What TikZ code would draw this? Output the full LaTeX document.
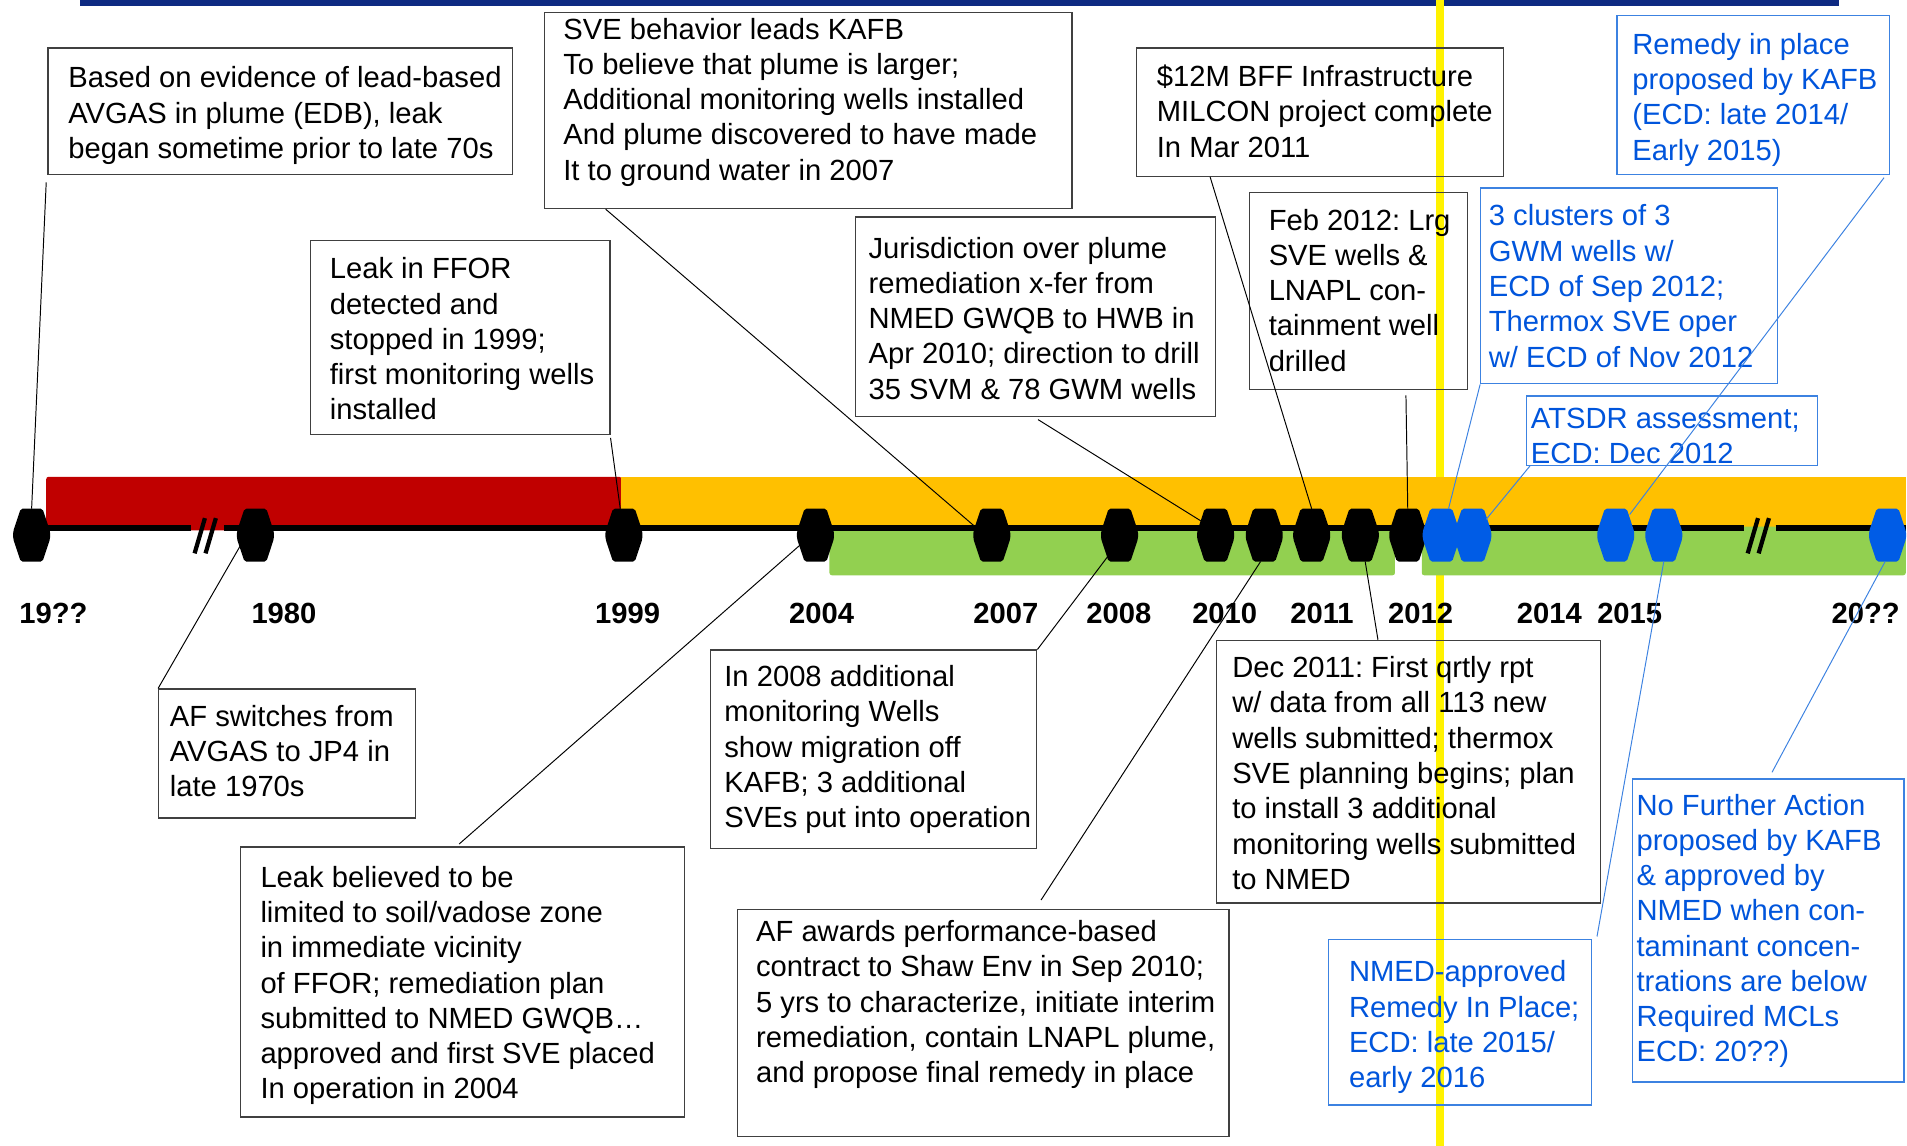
\documentclass[tikz,border=0pt]{standalone}
\usepackage{fontspec}
\setmainfont{Liberation Sans}
\usetikzlibrary{calc}
\definecolor{navy}{RGB}{14,42,130}
\definecolor{cred}{RGB}{192,0,0}
\definecolor{corange}{RGB}{255,192,0}
\definecolor{cgreen}{RGB}{146,208,80}
\definecolor{mblue}{RGB}{0,92,230}
\definecolor{tblue}{RGB}{0,85,220}
\definecolor{bblue}{RGB}{60,130,225}
\definecolor{bgray}{RGB}{64,64,64}
\newcommand{\fs}{\fontsize{24}{29}\selectfont}
\newcommand{\sr}{\rule{0pt}{23pt}}
\newcommand{\hexmk}[2]{\fill[#2, rounded corners=1.5pt] ($(#1.north)+(-9,0)$) -- ($(#1.north)+(9,0)$) -- ($(#1.east)+(0,-3)$) -- ($(#1.east)+(0,3)$) -- ($(#1.south)+(9,0)$) -- ($(#1.south)+(-9,0)$) -- ($(#1.west)+(0,3)$) -- ($(#1.west)+(0,-3)$) -- cycle;}
\frenchspacing
\begin{document}
\begin{tikzpicture}[x=1pt,y=-1pt,
  bx/.style={draw=bgray, line width=1pt, inner sep=0, anchor=north west},
  bbx/.style={draw=bblue, line width=1.1pt, inner sep=0, anchor=north west},
  tx/.style={font=\fs, align=left, inner sep=0, anchor=north west, text=black},
  btx/.style={tx, text=tblue},
  yr/.style={font=\fs\bfseries, inner sep=0},
  mk/.style={minimum width=30pt, minimum height=43pt, inner sep=0, draw=none},
  cn/.style={line width=0.8pt, black},
  bcn/.style={line width=0.8pt, bblue},
  brk/.style={line width=3.5pt, black}
]
\useasboundingbox (0,0) rectangle (1568,942);
\fill[white] (0,0) rectangle (1568,942);
% top bar and yellow line
\fill[navy] (66,0) rectangle (1512,5);
\fill[yellow] (1181,0) rectangle (1187,942);
% period bars
\fill[cred, rounded corners=2pt] (38,392) rectangle (511,436);
\fill[corange] (511,392) rectangle (1567,434);
\fill[cgreen, rounded corners=2pt] (682,433) rectangle (1147,473);
\fill[cgreen, rounded corners=2pt] (1169,433) rectangle (1567,473);
% axis line with breaks
\draw[black, line width=4.5pt] (26,434) -- (157,434);
\draw[black, line width=4.5pt] (184,434) -- (1434,434);
\draw[black, line width=4.5pt] (1460,434) -- (1567,434);
\draw[brk] (160,455) -- (168.5,426);
\draw[brk] (169,455) -- (177.5,426);
\draw[brk] (1437,455) -- (1445.5,426);
\draw[brk] (1446,455) -- (1454.5,426);
% markers
\node[mk] (m1) at (26,440) {};
\node[mk] (m2) at (210,440) {};
\node[mk] (m3) at (513,440) {};
\node[mk] (m4) at (670.5,440) {};
\node[mk] (m5) at (815.5,440) {};
\node[mk] (m6) at (920.5,440) {};
\node[mk] (m7) at (999.5,440) {};
\node[mk] (m8) at (1039.5,440) {};
\node[mk] (m9) at (1078.5,440) {};
\node[mk] (m10) at (1118.5,440) {};
\node[mk] (m11) at (1157.5,440) {};
\node[mk] (m12) at (1185,440) {};
\node[mk] (m13) at (1211,440) {};
\node[mk] (m14) at (1328.5,440) {};
\node[mk] (m15) at (1368,440) {};
\node[mk] (m16) at (1552,440) {};
\foreach \n in {m1,m2,m3,m4,m5,m6,m7,m8,m9,m10,m11}{\hexmk{\n}{black}}
\foreach \n in {m12,m13,m14,m15,m16}{\hexmk{\n}{mblue}}
% year labels
\node[yr] (y1) at (44,504) {19??};
\node[yr] (y2) at (233.5,504) {1980};
\node[yr] (y3) at (516,504) {1999};
\node[yr] (y4) at (675.5,504) {2004};
\node[yr] (y5) at (827,504) {2007};
\node[yr] (y6) at (920,504) {2008};
\node[yr] (y7) at (1007,504) {2010};
\node[yr] (y8) at (1087,504) {2011};
\node[yr] (y9) at (1168,504) {2012};
\node[yr] (y10) at (1274,504) {2014};
\node[yr] (y11) at (1340,504) {2015};
\node[yr] (y12) at (1534,504) {20??};
% boxes
\node[bx, minimum width=382, minimum height=104] (A) at (39,39) {};
\node[bx, minimum width=246, minimum height=160] (B) at (255,197) {};
\node[bx, minimum width=434, minimum height=161] (C) at (447,10) {};
\node[bx, minimum width=296, minimum height=164] (D) at (703,178) {};
\node[bx, minimum width=302, minimum height=105.5] (E) at (934,39) {};
\node[bx, minimum width=179, minimum height=162] (F) at (1027,158) {};
\node[bbx, minimum width=224, minimum height=131] (G) at (1329,12) {};
\node[bbx, minimum width=244, minimum height=161] (H) at (1217,154) {};
\node[bbx, minimum width=239.5, minimum height=57] (I) at (1254.5,325) {};
\node[bx, minimum width=211, minimum height=106] (J) at (130,566) {};
\node[bx, minimum width=364.5, minimum height=222] (K) at (197.5,696) {};
\node[bx, minimum width=268, minimum height=163] (L) at (584,534) {};
\node[bx, minimum width=315.5, minimum height=216] (M) at (1000,526) {};
\node[bx, minimum width=404, minimum height=187] (N) at (606,747) {};
\node[bbx, minimum width=216, minimum height=136] (O) at (1092,772) {};
\node[bbx, minimum width=223, minimum height=249] (P) at (1342,640) {};
% texts
\node[tx] (At) at (56,49) {\sr Based on evidence of lead-based\\AVGAS in plume (EDB), leak\\began sometime prior to late 70s};
\node[tx] (Bt) at (271,206) {\sr Leak in FFOR\\detected and\\stopped in 1999;\\first monitoring wells\\installed};
\node[tx] (Ct) at (463,9) {\sr SVE behavior leads KAFB\\To believe that plume is larger;\\Additional monitoring wells installed\\And plume discovered to have made\\It to ground water in 2007};
\node[tx] (Dt) at (714,189) {\sr Jurisdiction over plume\\remediation x-fer from\\NMED GWQB to HWB in\\Apr 2010; direction to drill\\35 SVM \& 78 GWM wells};
\node[tx] (Et) at (951,48) {\sr \$12M BFF Infrastructure\\MILCON project complete\\In Mar 2011};
\node[tx] (Ft) at (1043,166) {\sr Feb 2012: Lrg\\SVE wells \&\\LNAPL con-\\tainment well\\drilled};
\node[btx] (Gt) at (1342,21.5) {\sr Remedy in place\\proposed by KAFB\\(ECD: late 2014/\\Early 2015)};
\node[btx] (Ht) at (1224,162.6) {\sr 3 clusters of 3\\GWM wells w/\\ECD of Sep 2012;\\Thermox SVE oper\\w/ ECD of Nov 2012};
\node[btx] (It) at (1258.6,329) {\sr ATSDR assessment;\\ECD: Dec 2012};
\node[tx] (Jt) at (139.5,574) {\sr AF switches from\\AVGAS to JP4 in\\late 1970s};
\node[tx] (Kt) at (214,706.4) {\sr Leak believed to be\\limited to soil/vadose zone\\in immediate vicinity\\of FFOR; remediation plan\\submitted to NMED GWQB…\\approved and first SVE placed\\In operation in 2004};
\node[tx] (Lt) at (595.4,541.4) {\sr In 2008 additional\\monitoring Wells\\show migration off\\KAFB; 3 additional\\SVEs put into operation};
\node[tx] (Mt) at (1013,534) {\sr Dec 2011: First qrtly rpt\\w/ data from all 113 new\\wells submitted; thermox\\SVE planning begins; plan\\to install 3 additional\\monitoring wells submitted\\to NMED};
\node[tx] (Nt) at (621.5,751) {\sr AF awards performance-based\\contract to Shaw Env in Sep 2010;\\5 yrs to characterize, initiate interim\\remediation, contain LNAPL plume,\\and propose final remedy in place};
\node[btx] (Ot) at (1109,784) {\sr NMED-approved\\Remedy In Place;\\ECD: late 2015/\\early 2016};
\node[btx] (Pt) at (1345.4,647) {\sr No Further Action\\proposed by KAFB\\\& approved by\\NMED when con-\\taminant concen-\\trations are below\\Required MCLs\\ECD: 20??)};
% connectors
\draw[cn] (m1.north) -- ($(A.south west)+(-1,6)$);
\draw[cn] ($(m2)+(-12,8)$) -- (J.north west);
\draw[cn] ($(B.south east)+(0,2)$) -- ($(m3.north)+(-3,0)$);
\draw[cn] ($(m4)+(-12.5,8)$) -- ($(K.north west)+(180,-2)$);
\draw[cn] ($(C.south west)+(51,0)$) -- ($(m5)+(-15,-8)$);
\draw[cn] ($(m6)+(-8.5,16)$) -- (L.north east);
\draw[cn] ($(D.south)+(2,2)$) -- ($(m7)+(-11,-11)$);
\draw[cn] ($(m8.south)+(-3,0)$) -- ($(N.north west)+(250,-7)$);
\draw[cn] ($(E.south west)+(61,0)$) -- (m9.north);
\draw[cn] ($(m10.south)+(4,0)$) -- ($(M.north west)+(133,0)$);
\draw[cn] ($(F.south west)+(129,4)$) -- (m11.north);
\draw[bcn] (H.south west) -- ($(m12.north)+(6,0)$);
\draw[bcn] ($(I.south west)+(3.5,0)$) -- ($(m13)+(11,-13)$);
\draw[bcn] ($(G.south east)+(-5,2)$) -- ($(m14)+(11.5,-17)$);
\draw[bcn] (m15.south) -- ($(O.north east)+(4,-2)$);
\draw[bcn] ($(m16.south)+(-2,0)$) -- ($(P.north west)+(115,-5)$);
\end{tikzpicture}
\end{document}
